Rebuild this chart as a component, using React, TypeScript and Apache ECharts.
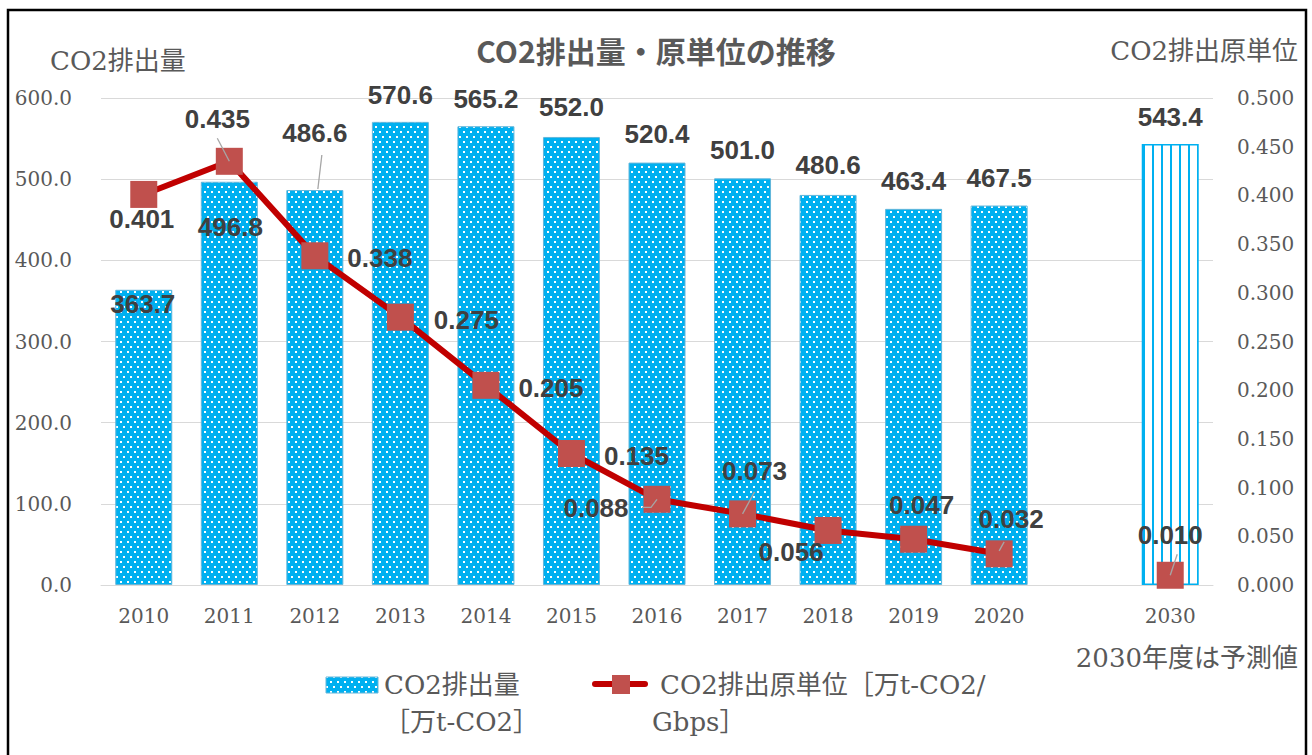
import React, { useEffect, useRef } from 'react';
import * as echarts from 'echarts';

const years = ['2010', '2011', '2012', '2013', '2014', '2015', '2016', '2017', '2018', '2019', '2020', '', '2030'];
const emissions = [363.7, 496.8, 486.6, 570.6, 565.2, 552.0, 520.4, 501.0, 480.6, 463.4, 467.5, null, 543.4];
const intensity = [0.401, 0.435, 0.338, 0.275, 0.205, 0.135, 0.088, 0.073, 0.056, 0.047, 0.032, null, 0.010];
const forecastIndex = 12;

const titleText = 'CO2排出量・原単位の推移';
const leftAxisName = 'CO2排出量';
const rightAxisName = 'CO2排出原単位';
const noteText = '2030年度は予測値';
const barLegend = ['CO2排出量', '［万t-CO2］'];
const lineLegend = ['CO2排出原単位［万t-CO2/', 'Gbps］'];

// label placement (style, not data)
const barLabelOffsets = [[-1, 41], [1, 72], [0, -30], [0, 0], [0, 0], [0, -3], [0, -2], [0, -1], [0, -3], [0, -1], [0, -1], [0, 0], [0, 0]];
const lineLabelOffsets = [[-2, 25], [-12, -42], [65, 2], [66, 3], [65, 3], [65, 2], [-61, 9], [12, -43], [-37, 22], [8, -34], [12, -35], [0, 0], [0, -40]];
// leader lines: category index and pixel points relative to the mark
const barLeaders: { i: number; pts: number[][] }[] = [
  { i: 2, pts: [[3, -1], [7, -35]] },
];
const lineLeaders: { i: number; pts: number[][] }[] = [
  { i: 1, pts: [[0, 0], [-12, -23]] },
  { i: 6, pts: [[0, 0], [-6, 8], [-15, 8]] },
  { i: 7, pts: [[0, 0], [12, -22]] },
  { i: 10, pts: [[0, -3], [5, -12]] },
  { i: 12, pts: [[0, 0], [7, -21]] },
];

const SERIF = "'DejaVu Serif', 'Noto Sans CJK JP', serif";
const LABEL_FONT = "'Liberation Sans', Arial, sans-serif";
const TEXT_COLOR = '#595959';

function makeDots(): string {
  const c = document.createElement('canvas');
  c.width = 7; c.height = 10;
  const ctx = c.getContext('2d')!;
  ctx.fillStyle = '#00B0F0';
  ctx.fillRect(0, 0, 7, 10);
  ctx.fillStyle = '#FFFFFF';
  ctx.fillRect(1, 1, 2, 2);
  ctx.fillRect(4, 6, 2, 2);
  return c.toDataURL();
}

function makeStripes(): string {
  const c = document.createElement('canvas');
  c.width = 9; c.height = 4;
  const ctx = c.getContext('2d')!;
  ctx.fillStyle = '#FFFFFF';
  ctx.fillRect(0, 0, 9, 4);
  ctx.fillStyle = '#00B0F0';
  ctx.fillRect(0, 0, 2, 4);
  return c.toDataURL();
}

function leaderSeries(values: (number | null)[], leaders: { i: number; pts: number[][] }[], axis: number) {
  return {
    type: 'custom',
    yAxisIndex: axis,
    silent: true,
    z: 5,
    data: leaders.map((l) => [l.i, values[l.i]]),
    renderItem: (params: any, api: any) => {
      const p = api.coord([api.value(0), api.value(1)]);
      const cfg = leaders[params.dataIndex];
      return {
        type: 'polyline',
        shape: { points: cfg.pts.map((q) => [p[0] + q[0], p[1] + q[1]]) },
        style: { stroke: '#A6A6A6', lineWidth: 1.3, fill: 'none' },
        z2: 10,
      };
    },
  };
}

export default function App() {
  const ref = useRef<HTMLDivElement>(null);
  useEffect(() => {
    const chart = echarts.init(ref.current!, null, { renderer: 'svg' });
    const dotPattern: any = { image: makeDots(), repeat: 'repeat', imageWidth: 7, imageHeight: 10 };
    const stripePattern: any = { image: makeStripes(), repeat: 'repeat', imageWidth: 9, imageHeight: 4 };

    const labelBase = {
      color: '#404040',
      fontFamily: LABEL_FONT,
      fontWeight: 'bold' as const,
      fontSize: 26,
      textBorderWidth: 0,
    };

    const option: any = {
      animation: false,
      backgroundColor: '#FFFFFF',
      title: {
        text: titleText,
        left: 'center',
        top: 30,
        textStyle: { fontFamily: "'Noto Sans CJK JP', sans-serif", fontWeight: 'bold', fontSize: 30, color: TEXT_COLOR },
      },
      grid: { left: 101, right: 99, top: 98, bottom: 170, containLabel: false },
      xAxis: {
        type: 'category',
        data: years,
        axisLine: { show: true, lineStyle: { color: '#D9D9D9', width: 1 } },
        axisTick: { show: false },
        axisLabel: { color: TEXT_COLOR, fontFamily: SERIF, fontSize: 20, margin: 21 },
      },
      yAxis: [
        {
          type: 'value', min: 0, max: 600, interval: 100,
          axisLine: { show: false }, axisTick: { show: false },
          axisLabel: { color: TEXT_COLOR, fontFamily: SERIF, fontSize: 20, margin: 29, formatter: (v: number) => v.toFixed(1) },
          splitLine: { lineStyle: { color: '#D9D9D9', width: 1 } },
        },
        {
          type: 'value', min: 0, max: 0.5, interval: 0.05,
          axisLine: { show: false }, axisTick: { show: false },
          axisLabel: { color: TEXT_COLOR, fontFamily: SERIF, fontSize: 20, margin: 24, formatter: (v: number) => v.toFixed(3) },
          splitLine: { show: false },
        },
      ],
      series: [
        {
          type: 'bar',
          name: barLegend.join(''),
          yAxisIndex: 0,
          barWidth: 57,
          itemStyle: { color: dotPattern, borderColor: '#62B6DA', borderWidth: 1 },
          label: { show: true, position: 'top', distance: 14, ...labelBase, formatter: (p: any) => Number(p.value).toFixed(1) },
          data: emissions.map((v, i) => v == null ? '-' : {
            value: v,
            itemStyle: i === forecastIndex ? { color: stripePattern, borderColor: '#00B0F0', borderWidth: 1.5 } : undefined,
            label: { offset: barLabelOffsets[i] },
          }),
          z: 2,
        },
        {
          type: 'line',
          name: lineLegend.join(''),
          yAxisIndex: 1,
          symbol: 'rect',
          symbolSize: 27,
          connectNulls: false,
          lineStyle: { color: '#C00000', width: 6 },
          itemStyle: { color: '#C0504D' },
          label: { show: true, position: 'inside', ...labelBase, formatter: (p: any) => Number(p.value).toFixed(3) },
          data: intensity.map((v, i) => v == null ? '-' : {
            value: v,
            label: { offset: lineLabelOffsets[i] },
          }),
          z: 3,
        },
        leaderSeries(emissions, barLeaders, 0),
        leaderSeries(intensity, lineLeaders, 1),
      ],
      graphic: [
        { type: 'rect', shape: { x: 8, y: 10, width: 1298, height: 800 }, style: { fill: 'none', stroke: '#000000', lineWidth: 2.5 }, silent: true, z: 10 },
        { type: 'text', x: 50, y: 61, style: { text: leftAxisName, fill: TEXT_COLOR, font: `26px ${SERIF}`, align: 'left', verticalAlign: 'middle', textAlign: 'left', textVerticalAlign: 'middle' } },
        { type: 'text', x: 1298, y: 51, style: { text: rightAxisName, fill: TEXT_COLOR, font: `26px ${SERIF}`, align: 'right', verticalAlign: 'middle', textAlign: 'right', textVerticalAlign: 'middle' } },
        { type: 'text', x: 1298, y: 658, style: { text: noteText, fill: TEXT_COLOR, font: `26px ${SERIF}`, align: 'right', verticalAlign: 'middle', textAlign: 'right', textVerticalAlign: 'middle' } },
        // legend: bar
        { type: 'rect', shape: { x: 326, y: 677, width: 52, height: 16 }, style: { fill: dotPattern, stroke: '#62B6DA', lineWidth: 1 } },
        { type: 'text', x: 384, y: 685, style: { text: barLegend[0], fill: TEXT_COLOR, font: `26px ${SERIF}`, align: 'left', verticalAlign: 'middle', textAlign: 'left', textVerticalAlign: 'middle' } },
        { type: 'text', x: 384, y: 722, style: { text: barLegend[1], fill: TEXT_COLOR, font: `26px ${SERIF}`, align: 'left', verticalAlign: 'middle', textAlign: 'left', textVerticalAlign: 'middle' } },
        // legend: line
        { type: 'line', shape: { x1: 595, y1: 684, x2: 645, y2: 684 }, style: { stroke: '#C00000', lineWidth: 6, lineCap: 'round' } },
        { type: 'rect', shape: { x: 612, y: 675, width: 18, height: 19 }, style: { fill: '#C0504D' } },
        { type: 'text', x: 660, y: 685, style: { text: lineLegend[0], fill: TEXT_COLOR, font: `26px ${SERIF}`, align: 'left', verticalAlign: 'middle', textAlign: 'left', textVerticalAlign: 'middle' } },
        { type: 'text', x: 652, y: 722, style: { text: lineLegend[1], fill: TEXT_COLOR, font: `26px ${SERIF}`, align: 'left', verticalAlign: 'middle', textAlign: 'left', textVerticalAlign: 'middle' } },
      ],
    };
    chart.setOption(option);
    return () => chart.dispose();
  }, []);
  return <div ref={ref} style={{ position: 'absolute', left: 0, top: 0, width: 1312, height: 755, background: '#FFFFFF' }} />;
}
